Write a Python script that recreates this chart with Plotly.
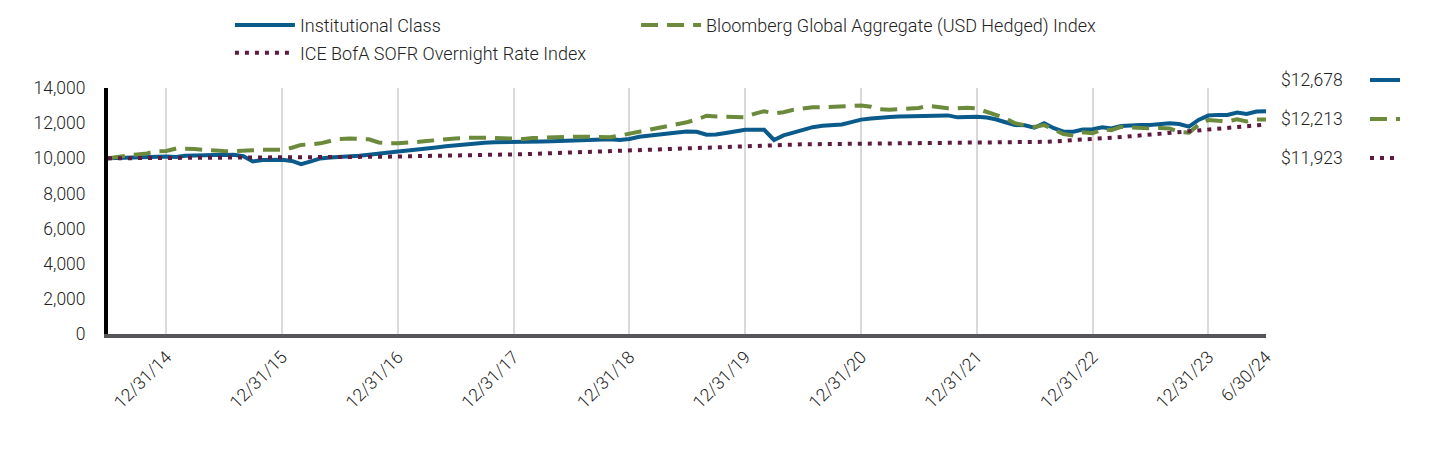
import pandas as pd
import plotly.graph_objects as go

# ---------------- data (month-ends 6/30/14 .. 6/30/24) ----------------
dates = pd.date_range("2014-06-30", "2024-06-30", freq="ME")

institutional = [
    10000, 10020, 10060, 10040, 10080, 10090, 10100, 10080, 10150, 10160, 10190, 10180,
    10190, 10200, 10120, 9820, 9900, 9930, 9920, 9850, 9670, 9820, 9990, 10040,
    10060, 10100, 10150, 10200, 10280, 10340, 10390, 10440, 10510, 10560, 10610, 10680,
    10740, 10790, 10840, 10880, 10910, 10930, 10950, 10950, 10940, 10960, 10970, 10990,
    11020, 11050, 11090, 11100, 11080, 11040, 11100, 11220, 11290, 11360, 11420, 11470,
    11520, 11510, 11340, 11350, 11440, 11510, 11620, 11630, 11620, 11040, 11300, 11460,
    11630, 11770, 11850, 11880, 11920, 12060, 12200, 12270, 12330, 12350, 12380, 12400,
    12410, 12430, 12430, 12440, 12330, 12360, 12360, 12320, 12220, 12050, 11890, 11880,
    11740, 11990, 11710, 11510, 11510, 11640, 11650, 11760, 11700, 11840, 11880, 11890,
    11900, 11950, 11990, 11950, 11800, 12180, 12430, 12470, 12470, 12600, 12520, 12660,
    12678,
]

bloomberg = [
    10000, 10100, 10160, 10220, 10280, 10400, 10420, 10560, 10560, 10530, 10480, 10430,
    10410, 10400, 10450, 10460, 10490, 10500, 10480, 10600, 10760, 10800, 10850, 10980,
    11100, 11130, 11120, 11080, 10900, 10850, 10860, 10880, 10930, 10980, 11040, 11090,
    11130, 11160, 11190, 11170, 11150, 11140, 11130, 11100, 11150, 11180, 11190, 11210,
    11220, 11230, 11230, 11220, 11200, 11290, 11400, 11510, 11610, 11700, 11780, 11890,
    12050, 12200, 12420, 12380, 12370, 12350, 12340, 12540, 12680, 12560, 12620, 12760,
    12820, 12900, 12900, 12920, 12920, 12970, 13010, 12930, 12790, 12760, 12780, 12820,
    12860, 12980, 12920, 12850, 12850, 12880, 12830, 12660, 12480, 12280, 11990, 11860,
    11780, 11890, 11600, 11380, 11290, 11480, 11420, 11650, 11600, 11790, 11750, 11700,
    11700, 11720, 11700, 11500, 11460, 11900, 12180, 12130, 12100, 12220, 12100, 12200,
    12213,
]

sofr = [
    10000, 10001, 10003, 10004, 10006, 10008, 10010, 10012, 10014, 10016, 10018, 10020,
    10022, 10024, 10027, 10030, 10033, 10036, 10040, 10044, 10048, 10052, 10056, 10060,
    10065, 10070, 10075, 10080, 10086, 10093, 10100, 10108, 10116, 10124, 10133, 10142,
    10151, 10160, 10170, 10180, 10190, 10201, 10212, 10232, 10252, 10272, 10293, 10314,
    10335, 10357, 10379, 10401, 10424, 10447, 10470, 10492, 10514, 10536, 10558, 10580,
    10602, 10624, 10646, 10666, 10686, 10705, 10722, 10740, 10758, 10772, 10782, 10790,
    10796, 10801, 10806, 10810, 10814, 10818, 10822, 10824, 10826, 10828, 10830, 10832,
    10834, 10836, 10838, 10840, 10842, 10844, 10846, 10850, 10856, 10864, 10876, 10892,
    10912, 10936, 10962, 10990, 11020, 11052, 11086, 11124, 11164, 11206, 11250, 11296,
    11344, 11394, 11444, 11494, 11544, 11594, 11644, 11692, 11740, 11788, 11836, 11880,
    11923,
]

tick_dates = ["2014-12-31", "2015-12-31", "2016-12-31", "2017-12-31", "2018-12-31",
              "2019-12-31", "2020-12-31", "2021-12-31", "2022-12-31", "2023-12-31",
              "2024-06-30"]
tick_labels = ["12/31/14", "12/31/15", "12/31/16", "12/31/17", "12/31/18",
               "12/31/19", "12/31/20", "12/31/21", "12/31/22", "12/31/23", "6/30/24"]

end_labels = ["$12,678", "$12,213", "$11,923"]

BLUE = "#0b5a8c"
GREEN = "#6b8a3c"
MAROON = "#5e1b40"
FONT = "Roboto"
TXT = "#222"
FS = 17.5
W = 300

fig = go.Figure()
fig.add_trace(go.Scatter(x=dates, y=institutional, name="Institutional Class",
                         mode="lines", line=dict(color=BLUE, width=4),
                         legend="legend"))
fig.add_trace(go.Scatter(x=dates, y=bloomberg,
                         name="Bloomberg Global Aggregate (USD Hedged) Index",
                         mode="lines", line=dict(color=GREEN, width=4, dash="17px,9px"),
                         legend="legend3"))
fig.add_trace(go.Scatter(x=dates, y=sofr, name="ICE BofA SOFR Overnight Rate Index",
                         mode="lines", line=dict(color=MAROON, width=4, dash="4px,6px"),
                         legend="legend2"))

# right-hand ending values
ys = [1.0325, 0.874, 0.7154]
styles = [dict(color=BLUE, width=4), dict(color=GREEN, width=4, dash="17px,9px"),
          dict(color=MAROON, width=4, dash="4px,6px")]
for lab, yy, st in zip(end_labels, ys, styles):
    fig.add_annotation(x=1.0115, y=yy, xref="paper", yref="paper", text=lab,
                       showarrow=False, xanchor="left", yanchor="middle",
                       font=dict(family=FONT, size=FS, color=TXT, weight=W))
    fig.add_shape(type="line", xref="paper", yref="paper",
                  x0=1.0898, x1=1.1157, y0=yy, y1=yy, line=st)

leg_common = dict(orientation="h", xanchor="left", yanchor="middle",
                  font=dict(family=FONT, size=18, color=TXT, weight=W),
                  bgcolor="rgba(0,0,0,0)", itemwidth=60)
fig.update_layout(
    width=1440, height=456,
    margin=dict(l=100, r=182, t=80, b=130, autoexpand=False),
    paper_bgcolor="white", plot_bgcolor="white",
    font=dict(family=FONT, size=FS, color=TXT, weight=W),
    legend=dict(x=0.1053, y=1.255, **leg_common),
    legend2=dict(x=0.1053, y=1.142, **leg_common),
    legend3=dict(x=0.456, y=1.255, **leg_common),
    xaxis=dict(type="date", range=["2014-06-30", "2024-06-30"],
               tickvals=tick_dates, ticktext=tick_labels, tickangle=-45,
               showgrid=True, gridcolor="#d9d9d9", gridwidth=2,
               showline=True, linecolor="#54565a", linewidth=4,
               ticks="outside", ticklen=2, tickcolor="rgba(0,0,0,0)",
               tickfont=dict(family=FONT, size=FS, color=TXT, weight=W),
               zeroline=False),
    yaxis=dict(range=[0, 14000], dtick=2000, tickformat=",",
               showgrid=False, zeroline=False,
               showline=True, linecolor="black", linewidth=4,
               ticks="outside", ticklen=15, tickcolor="rgba(0,0,0,0)",
               tickfont=dict(family=FONT, size=FS, color=TXT, weight=W)),
    showlegend=True,
)

fig.write_html("out.html")
